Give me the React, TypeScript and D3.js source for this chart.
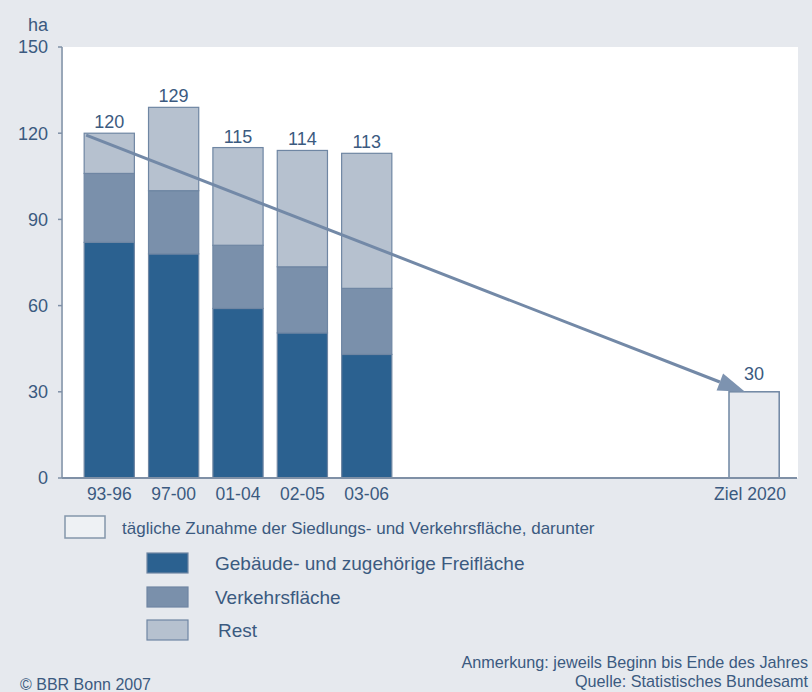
import React from "react";
import * as d3 from "d3";

const categories = ["93-96", "97-00", "01-04", "02-05", "03-06"];
const gebaeude = [82, 78, 59, 50.5, 43];
const verkehr = [24, 22, 22, 23, 23];
const rest = [14, 29, 34, 40.5, 47];
const totals = [120, 129, 115, 114, 113];
const targetLabel = "Ziel 2020";
const targetValue = 30;
const yTicks = [0, 30, 60, 90, 120, 150];
const seriesNames = ["Gebäude- und zugehörige Freifläche", "Verkehrsfläche", "Rest"];
const legendTotal = "tägliche Zunahme der Siedlungs- und Verkehrsfläche, darunter";

const W = 812;
const H = 692;
const FONT = "'Liberation Sans', Arial, Helvetica, sans-serif";
const TEXT = "#3b5a80";
const BG = "#e6e9ee";
const COLORS = ["#2b6190", "#7a90ab", "#b6c1cf"];
const STROKE = "#6f86a3";
const AXIS = "#7f90a6";

export default function App() {
  const y = d3.scaleLinear().domain([0, 150]).range([478, 47]);
  const x = d3.scaleBand<string>().domain(categories).range([70, 406]).paddingInner(0.22).paddingOuter(0.22);
  const bw = x.bandwidth();
  const targetX = 729;

  const rows = categories.map((c, i) => ({ cat: c, g: gebaeude[i], v: verkehr[i], r: rest[i] }));
  const stack = d3.stack<any>().keys(["g", "v", "r"])(rows);

  const arrowStart: [number, number] = [(x(categories[0]) as number) + 2, y(totals[0]) + 2];
  const arrowEnd: [number, number] = [targetX + 16, y(targetValue)];
  const ang = Math.atan2(arrowEnd[1] - arrowStart[1], arrowEnd[0] - arrowStart[0]);
  const headLen = 27;
  const headW = 9;
  const bx = arrowEnd[0] - headLen * Math.cos(ang);
  const by = arrowEnd[1] - headLen * Math.sin(ang);
  const nx = -Math.sin(ang);
  const ny = Math.cos(ang);
  const headPath = d3.path();
  headPath.moveTo(arrowEnd[0], arrowEnd[1]);
  headPath.lineTo(bx + nx * headW, by + ny * headW);
  headPath.lineTo(bx - nx * headW, by - ny * headW);
  headPath.closePath();

  const legendY = [553, 587, 620];

  return (
    <div style={{ position: "fixed", left: 0, top: 0 }}>
      <svg width={W} height={H} style={{ display: "block", fontFamily: FONT }}>
        <rect x={0} y={0} width={W} height={H} fill={BG} />
        <rect x={63} y={47} width={735} height={431} fill="#ffffff" />

        {/* y axis */}
        <line x1={62} x2={62} y1={y(150)} y2={y(0)} stroke={AXIS} strokeWidth={1.5} />
        {yTicks.map((t) => (
          <g key={t}>
            <line x1={58} x2={62} y1={y(t)} y2={y(t)} stroke={AXIS} strokeWidth={1.5} />
            <text x={48} y={y(t)} dy="0.36em" textAnchor="end" fontSize={18} fill={TEXT}>
              {t}
            </text>
          </g>
        ))}
        <text x={28} y={31} fontSize={18} fill={TEXT}>ha</text>

        {/* stacked bars */}
        {stack.map((s, si) => (
          <g key={si}>
            {s.map((d: any, i: number) => (
              <rect
                key={i}
                x={x(categories[i])}
                y={y(d[1])}
                width={bw}
                height={y(d[0]) - y(d[1])}
                fill={COLORS[si]}
                stroke={STROKE}
                strokeWidth={1.2}
              />
            ))}
          </g>
        ))}

        {/* target bar */}
        <rect
          x={targetX}
          y={y(targetValue)}
          width={bw}
          height={y(0) - y(targetValue)}
          fill="#e7eaef"
          stroke={STROKE}
          strokeWidth={1.5}
        />

        {/* x axis */}
        <line x1={62} x2={797} y1={y(0)} y2={y(0)} stroke={AXIS} strokeWidth={2} />

        {/* value labels */}
        {categories.map((c, i) => (
          <text key={c} x={(x(c) as number) + bw / 2} y={y(totals[i]) - 5} textAnchor="middle" fontSize={18} fill={TEXT}>
            {totals[i]}
          </text>
        ))}
        <text x={targetX + bw / 2} y={y(targetValue) - 12} textAnchor="middle" fontSize={18} fill={TEXT}>
          {targetValue}
        </text>

        {/* arrow */}
        <line x1={arrowStart[0]} y1={arrowStart[1]} x2={bx} y2={by} stroke="#7389a7" strokeWidth={3} />
        <path d={headPath.toString()} fill="#7d93b0" />

        {/* x labels */}
        {categories.map((c) => (
          <text key={c} x={(x(c) as number) + bw / 2} y={500} textAnchor="middle" fontSize={17.5} fill={TEXT}>
            {c}
          </text>
        ))}
        <text x={targetX + bw / 2 - 4} y={500} textAnchor="middle" fontSize={17.5} fill={TEXT}>
          {targetLabel}
        </text>

        {/* legend */}
        <rect x={65} y={516} width={40} height={22} fill="#eef1f4" stroke="#8496ab" strokeWidth={1.5} />
        <text x={122} y={534} fontSize={17} fill={TEXT}>{legendTotal}</text>
        {seriesNames.map((n, i) => (
          <g key={n}>
            <rect x={147} y={legendY[i]} width={41} height={20} fill={COLORS[i]} stroke={STROKE} strokeWidth={1.2} />
            <text x={i === 2 ? 218 : 215} y={legendY[i] + 17} fontSize={19} fill={TEXT}>{n}</text>
          </g>
        ))}

        {/* notes */}
        <text x={808} y={668} textAnchor="end" fontSize={16.2} fill={TEXT}>Anmerkung: jeweils Beginn bis Ende des Jahres</text>
        <text x={808} y={687} textAnchor="end" fontSize={16.2} fill={TEXT}>Quelle: Statistisches Bundesamt</text>
        <text x={20} y={690} fontSize={16} fill={TEXT}>© BBR Bonn 2007</text>
      </svg>
    </div>
  );
}
